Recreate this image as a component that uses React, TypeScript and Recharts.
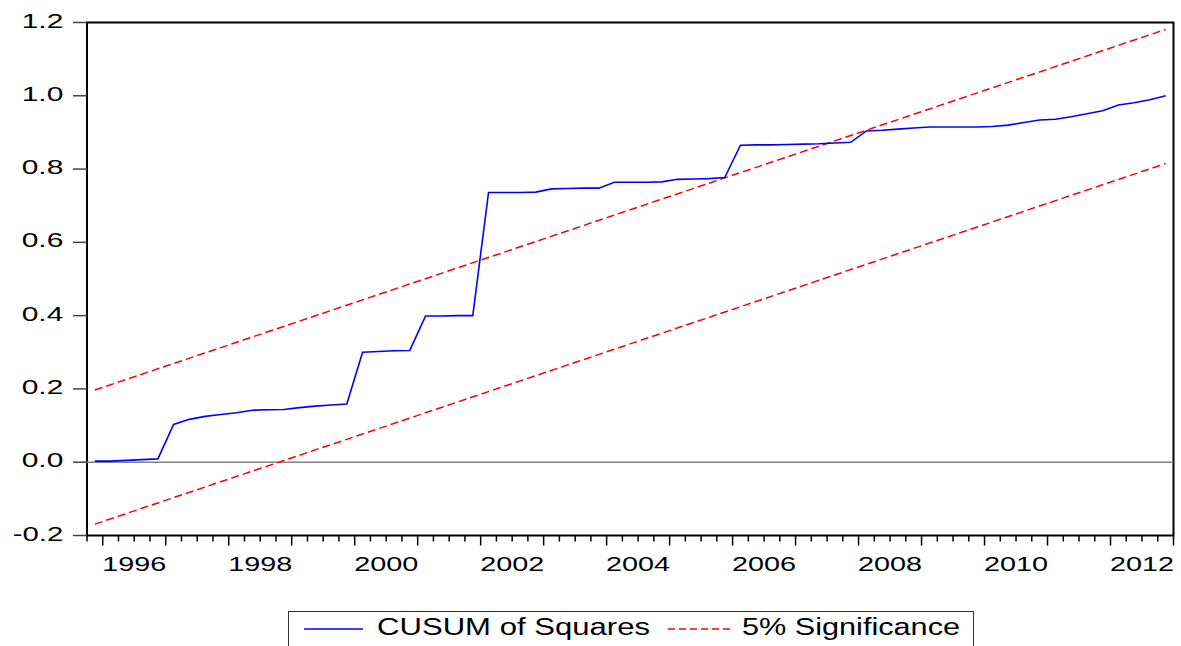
import React from "react";
import {
  ComposedChart,
  Line,
  XAxis,
  YAxis,
  ReferenceLine,
  ReferenceArea,
} from "recharts";

// quarterly sample 1995Q4 .. 2012Q4
const firstYear = 1995;
const firstQuarter = 4;

const cusumSq = [
  0.003, 0.003, 0.005, 0.007, 0.009, 0.103, 0.117, 0.125, 0.13, 0.135,
  0.142, 0.143, 0.144, 0.149, 0.153, 0.156, 0.159, 0.3, 0.302, 0.304,
  0.305, 0.399, 0.399, 0.4, 0.4, 0.736, 0.736, 0.736, 0.737, 0.746,
  0.747, 0.748, 0.748, 0.764, 0.764, 0.764, 0.765, 0.772, 0.773, 0.774,
  0.777, 0.865, 0.866, 0.866, 0.867, 0.868, 0.869, 0.871, 0.873, 0.904,
  0.906, 0.909, 0.912, 0.915, 0.915, 0.915, 0.915, 0.916, 0.92, 0.927,
  0.934, 0.936, 0.943, 0.951, 0.959, 0.975, 0.981, 0.989, 1.0,
];

// 5% bands: straight lines, start and end values
const upperBand = [0.197, 1.181];
const lowerBand = [-0.169, 0.815];

const yearLabels = ["1996", "1998", "2000", "2002", "2004", "2006", "2008", "2010", "2012"];
const yTicks = [-0.2, 0.0, 0.2, 0.4, 0.6, 0.8, 1.0, 1.2];

const n = cusumSq.length;
const cusumData = cusumSq.map((v, i) => ({ t: i + 0.5, cusum: v }));
const upperData = [
  { t: 0.5, upper: upperBand[0] },
  { t: n - 0.5, upper: upperBand[1] },
];
const lowerData = [
  { t: 0.5, lower: lowerBand[0] },
  { t: n - 0.5, lower: lowerBand[1] },
];

// quarter boundaries
const xTicks = Array.from({ length: n + 1 }, (_, i) => i);
const yearStartOffset = (5 - firstQuarter) % 4; // index where first full year begins

const FONT = "'Liberation Sans', Arial, Helvetica, sans-serif";

function XTick(props: any) {
  const { x, y, payload } = props;
  const v: number = payload.value;
  const isYear = (v - yearStartOffset) % 4 === 0;
  const len = isYear ? 10 : 6;
  const mid = (v - yearStartOffset - 2) / 4;
  let label: string | null = null;
  if (Number.isInteger(mid) && mid >= 0) {
    const yr = String(firstYear + 1 + mid);
    if (yearLabels.includes(yr)) label = yr;
  }
  return (
    <g>
      <line x1={x} x2={x} y1={y} y2={y + len} stroke="#000" strokeWidth={1.5} />
      {label && (
        <text
          x={x - 32}
          y={y + 35}
          fontFamily={FONT}
          fontSize={20}
          fill="#000"
          textLength={64}
          lengthAdjust="spacingAndGlyphs"
        >
          {label}
        </text>
      )}
    </g>
  );
}

function YTick(props: any) {
  const { x, y, payload } = props;
  const label = Number(payload.value).toFixed(1);
  const len = label.startsWith("-") ? 50.6 : 41.6;
  return (
    <g>
      <line x1={x - 14} x2={x} y1={y} y2={y} stroke="#444" strokeWidth={1.5} />
      <text
        x={63.3 - len}
        y={y + 5}
        fontFamily={FONT}
        fontSize={20}
        fill="#000"
        textLength={len}
        lengthAdjust="spacingAndGlyphs"
      >
        {label}
      </text>
    </g>
  );
}

function ChartLegend() {
  return (
    <svg
      width={686}
      height={40}
      style={{ position: "absolute", left: 288, top: 611 }}
    >
      <rect x={0.5} y={0.5} width={685} height={45} fill="#fff" stroke="#333" strokeWidth={1} />
      <line x1={16} x2={75} y1={18} y2={18} stroke="#0000ff" strokeWidth={1.5} />
      <text
        x={89}
        y={24}
        fontFamily={FONT}
        fontSize={23}
        fill="#000"
        textLength={273}
        lengthAdjust="spacingAndGlyphs"
      >
        CUSUM of Squares
      </text>
      <line
        x1={380}
        x2={444}
        y1={18}
        y2={18}
        stroke="#ff0000"
        strokeWidth={1.5}
        strokeDasharray="7 4"
      />
      <text
        x={454}
        y={24}
        fontFamily={FONT}
        fontSize={23}
        fill="#000"
        textLength={218}
        lengthAdjust="spacingAndGlyphs"
      >
        5% Significance
      </text>
    </svg>
  );
}

export default function App() {
  return (
    <div
      style={{
        position: "absolute",
        left: 0,
        top: 0,
        width: 1181,
        height: 646,
        background: "#fff",
        overflow: "hidden",
      }}
    >
      <ComposedChart
        width={1181}
        height={646}
        margin={{ top: 22.5, right: 7.5, bottom: 70.5, left: 0 }}
      >
        <XAxis
          type="number"
          dataKey="t"
          domain={[0, n]}
          ticks={xTicks}
          interval={0}
          allowDataOverflow
          axisLine={false}
          tickLine={false}
          tickSize={0}
          tickMargin={0}
          height={40}
          tick={<XTick />}
        />
        <YAxis
          type="number"
          domain={[-0.2, 1.2]}
          ticks={yTicks}
          interval={0}
          allowDataOverflow
          axisLine={false}
          tickLine={false}
          tickSize={0}
          tickMargin={0}
          width={87}
          tick={<YTick />}
        />
        <ReferenceLine y={0} stroke="#808080" strokeWidth={1.5} />
        <Line
          data={upperData}
          dataKey="upper"
          type="linear"
          stroke="#ff0000"
          strokeWidth={1.5}
          strokeDasharray="8 4"
          dot={false}
          activeDot={false}
          isAnimationActive={false}
        />
        <Line
          data={lowerData}
          dataKey="lower"
          type="linear"
          stroke="#ff0000"
          strokeWidth={1.5}
          strokeDasharray="8 4"
          dot={false}
          activeDot={false}
          isAnimationActive={false}
        />
        <Line
          data={cusumData}
          dataKey="cusum"
          type="linear"
          stroke="#0000ff"
          strokeWidth={1.6}
          dot={false}
          activeDot={false}
          isAnimationActive={false}
        />
        <ReferenceArea
          x1={0}
          x2={n}
          y1={-0.2}
          y2={1.2}
          fill="none"
          fillOpacity={0}
          stroke="#000"
          strokeWidth={2}
          ifOverflow="visible"
        />
      </ComposedChart>
      <ChartLegend />
    </div>
  );
}
